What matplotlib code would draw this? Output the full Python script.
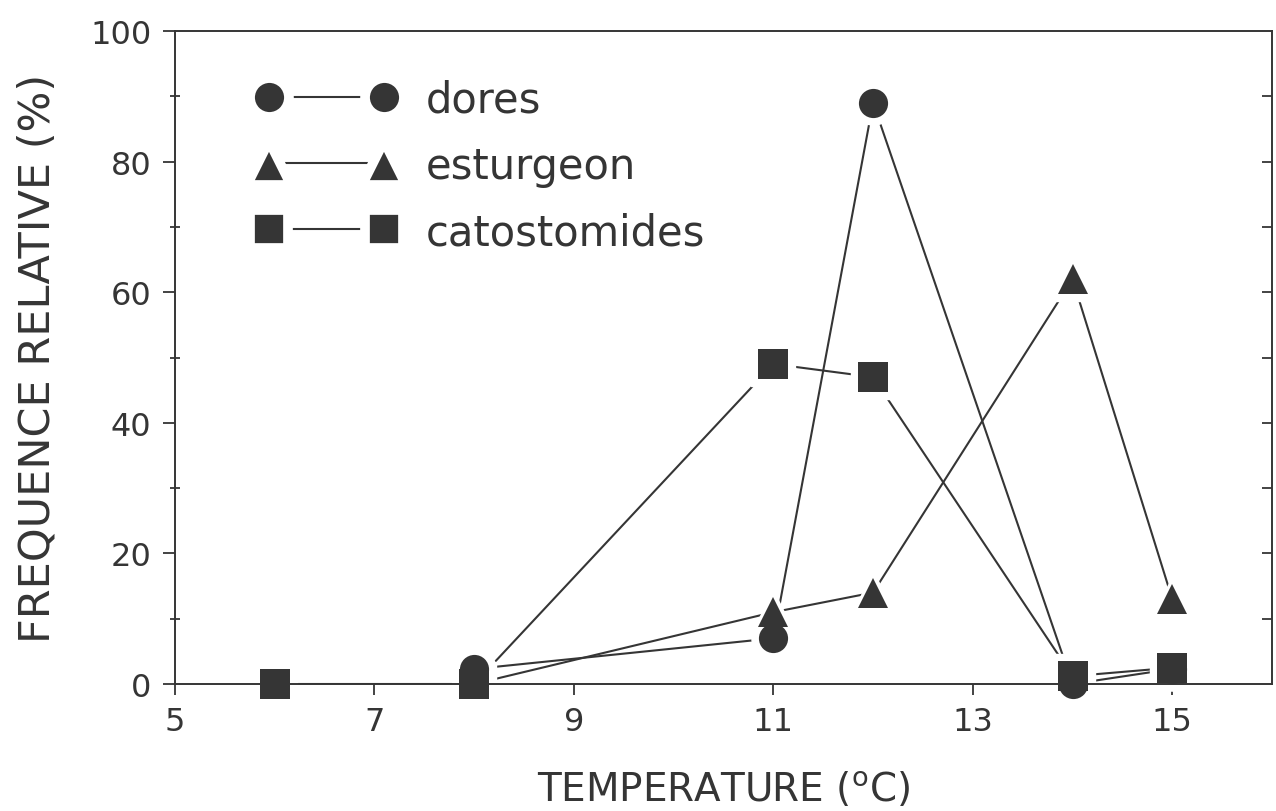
import matplotlib
matplotlib.use("Agg")
import matplotlib.pyplot as plt
from matplotlib.lines import Line2D

# values
temp_dores = [8, 11, 12, 14, 15]
dores = [2.3, 7.0, 89.0, 0.0, 2.3]
temp_esturgeon = [8, 11, 12, 14, 15]
esturgeon = [0.0, 11.0, 14.0, 62.0, 13.0]
temp_catos = [6, 8, 11, 12, 14, 15]
catostomides = [0.0, 0.0, 49.0, 47.0, 1.2, 2.5]

labels = ['dores', 'esturgeon', 'catostomides']
x_ticks = [5, 7, 9, 11, 13, 15]
y_ticks = [0, 20, 40, 60, 80, 100]

ink = '#353535'
font = 'DejaVu Sans'

fig = plt.figure(figsize=(12.76, 8.12), dpi=100)
ax = fig.add_axes([175 / 1276, 127 / 812, 1097 / 1276, 653 / 812])

series = [(temp_dores, dores, 'o', 21),
          (temp_esturgeon, esturgeon, '^', 22),
          (temp_catos, catostomides, 's', 21)]

handles = []
for (xs, ys, mk, ms), lab in zip(series, labels):
    # connecting line
    ax.plot(xs, ys, '-', color=ink, lw=1.5, zorder=2)
    # white halo so the lines stop short of the symbols
    ax.plot(xs, ys, linestyle='none', marker=mk, ms=ms + 10, color='white',
            zorder=2.2, clip_on=False)
    extra = 10 if mk == '^' else 7
    handles.append(Line2D([], [], color=ink, lw=1.5, marker=mk, ms=ms + extra,
                          markerfacecolor=ink, markeredgecolor='white',
                          markeredgewidth=7))

for (xs, ys, mk, ms) in series:
    ax.plot(xs, ys, linestyle='none', marker=mk, ms=ms, color=ink,
            markeredgewidth=0, zorder=3, clip_on=False)

ax.set_xlim(5, 16)
ax.set_ylim(0, 100)
ax.set_xticks(x_ticks)
ax.set_yticks(y_ticks)
ax.set_yticks(range(10, 100, 20), minor=True)

for s in ax.spines.values():
    s.set_linewidth(1.4)
    s.set_color(ink)

ax.tick_params(axis='x', which='major', direction='out', length=8, width=1.3,
               color=ink, labelcolor=ink, pad=8, labelsize=23)
ax.tick_params(axis='y', which='major', direction='out', length=9, width=1.3,
               color=ink, labelcolor=ink, pad=8, labelsize=23)
ax.tick_params(axis='y', which='minor', direction='inout', length=7, width=1.3,
               color=ink)

# ticks on the right edge, every 10, pointing inward
sec = ax.secondary_yaxis('right')
sec.set_yticks(range(10, 100, 10))
sec.tick_params(direction='in', length=7, width=1.3, color=ink, labelright=False)
sec.spines['right'].set_visible(False)

ax.set_xlabel('TEMPERATURE ($^{\\mathrm{o}}$C)', family=font, fontsize=28, color=ink)
ax.set_ylabel('FREQUENCE RELATIVE (%)', family=font, fontsize=31, color=ink)
ax.xaxis.set_label_coords(0.5, -0.132)
ax.yaxis.set_label_coords(-0.106, 0.5)

leg = ax.legend(handles, labels, loc='upper left', bbox_to_anchor=(0.074, 0.927),
                numpoints=2, frameon=False, borderpad=0, borderaxespad=0,
                handlelength=3.37, handletextpad=0.7, labelspacing=0.58,
                prop={'family': font, 'size': 30})
for t in leg.get_texts():
    t.set_color(ink)

fig.savefig('out.png', dpi=100)
